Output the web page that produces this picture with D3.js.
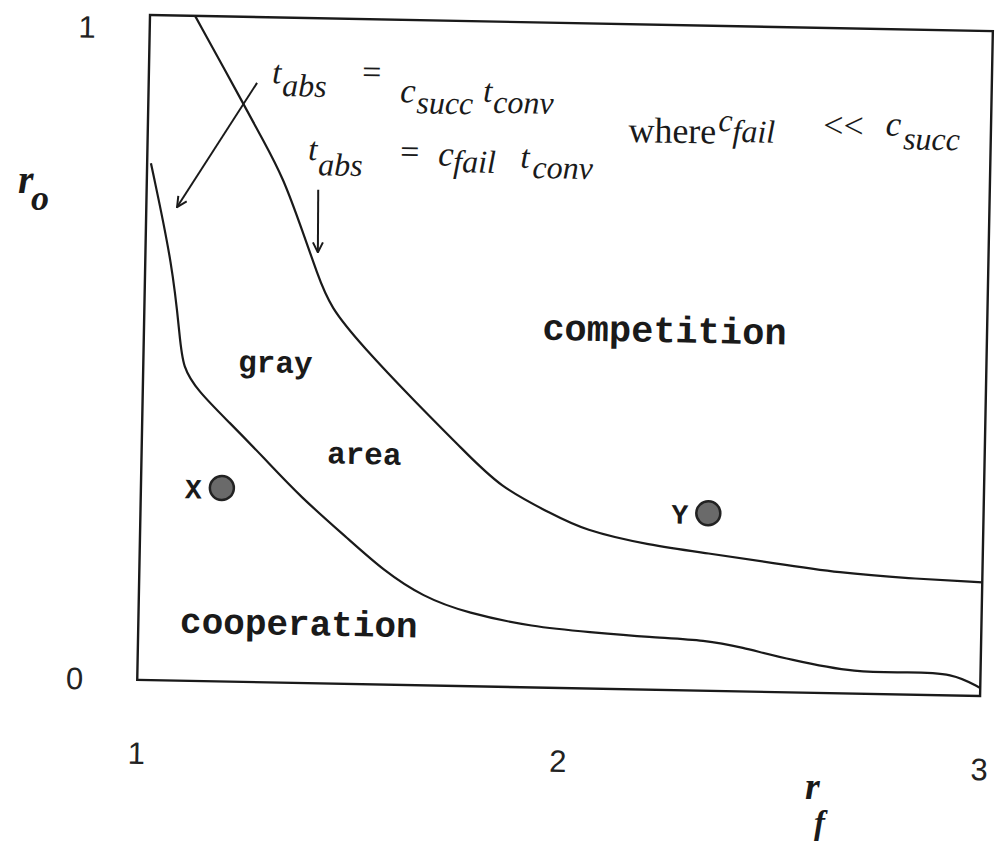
<!DOCTYPE html>
<html>
<head>
<meta charset="utf-8">
<script src="https://cdn.jsdelivr.net/npm/d3@7"></script>
<style>
  body { margin: 0; background: #fff; }
  .tick text { font-family: "Liberation Sans", Arial, sans-serif; font-size: 31px; fill: #222; }
  .mono { font-family: "Courier New", "Liberation Mono", monospace; font-weight: bold; fill: #1a1a1a; }
  .serif { font-family: "Liberation Serif", "Times New Roman", serif; fill: #1a1a1a; }
</style>
</head>
<body>
<svg id="chart" width="1000" height="842"></svg>
<script>
// data (r_f on x, r_o on y)
var xTicks = [1, 2, 3];
var yTicks = [0, 1];

// boundary between cooperation and gray area
var coopRf = [1.009, 1.066, 1.086, 1.094, 1.129, 1.208, 1.288, 1.378, 1.498, 1.578, 1.674, 1.779, 1.937, 2.07, 2.214, 2.350, 2.428, 2.548, 2.707, 2.826, 2.935, 3.0];
var coopRo = [0.777, 0.622, 0.512, 0.472, 0.437, 0.389, 0.339, 0.280, 0.216, 0.172, 0.133, 0.110, 0.091, 0.085, 0.079, 0.076, 0.067, 0.049, 0.031, 0.034, 0.034, 0.012];

// boundary between gray area and competition
var compRf = [1.107, 1.225, 1.274, 1.323, 1.373, 1.408, 1.440, 1.521, 1.642, 1.763, 1.852, 1.972, 2.051, 2.210, 2.346, 2.503, 2.662, 2.822, 3.0];
var compRo = [1.0, 0.870, 0.815, 0.760, 0.677, 0.617, 0.566, 0.507, 0.429, 0.355, 0.300, 0.263, 0.238, 0.217, 0.207, 0.194, 0.181, 0.175, 0.171];

// the two marked points
var pointNames = ["X", "Y"];
var pointRf = [1.192, 2.347];
var pointRo = [0.291, 0.267];

// set the dimensions of the (slightly tilted, scanned) plot frame
var margin = {top: 15, left: 150},
    width = 843,
    height = 665,
    tilt = 1.1;

var svg = d3.select("#chart");

var g = svg.append("g")
    .attr("transform", "translate(" + margin.left + "," + margin.top + ") rotate(" + tilt + ")");

var x = d3.scaleLinear().domain([1, 3]).range([0, width]);
var y = d3.scaleLinear().domain([0, 1]).range([height, 0]);

// arrow head
svg.append("defs").append("marker")
    .attr("id", "head")
    .attr("viewBox", "0 0 12 12")
    .attr("refX", 11).attr("refY", 6)
    .attr("markerWidth", 12).attr("markerHeight", 12)
    .attr("markerUnits", "userSpaceOnUse")
    .attr("orient", "auto")
  .append("path")
    .attr("d", "M1,1 L11,6 L1,11")
    .attr("fill", "none")
    .attr("stroke", "#1a1a1a")
    .attr("stroke-width", 2);

// frame
g.append("rect")
    .attr("x", 0).attr("y", 0)
    .attr("width", width).attr("height", height)
    .attr("fill", "none")
    .attr("stroke", "#1a1a1a")
    .attr("stroke-width", 2.4);

// axes (labels only)
var xAxis = g.append("g")
    .attr("transform", "translate(0," + height + ")")
    .call(d3.axisBottom(x).tickValues(xTicks).tickSize(0).tickPadding(62).tickFormat(d3.format("d")));
xAxis.select(".domain").remove();

var yAxis = g.append("g")
    .call(d3.axisLeft(y).tickValues(yTicks).tickSize(0).tickPadding(54).tickFormat(d3.format("d")));
yAxis.select(".domain").remove();
yAxis.selectAll(".tick text").attr("dy", function(d) { return d === 1 ? "0.75em" : "0.32em"; });

// boundary curves
var line = d3.line()
    .x(function(d) { return x(d[0]); })
    .y(function(d) { return y(d[1]); })
    .curve(d3.curveBasis);

[d3.zip(coopRf, coopRo), d3.zip(compRf, compRo)].forEach(function(pts) {
  g.append("path")
      .datum(pts)
      .attr("d", line)
      .attr("fill", "none")
      .attr("stroke", "#1a1a1a")
      .attr("stroke-width", 2.2);
});

// points X and Y
var pts = g.selectAll(".pt")
    .data(d3.range(pointNames.length))
  .enter().append("g")
    .attr("class", "pt")
    .attr("transform", function(i) { return "translate(" + x(pointRf[i]) + "," + y(pointRo[i]) + ")"; });
pts.append("circle")
    .attr("r", 12)
    .attr("fill", "#6a6a6a")
    .attr("stroke", "#222")
    .attr("stroke-width", 2.5);
pts.append("text")
    .attr("class", "mono")
    .attr("x", -20).attr("y", 11)
    .attr("text-anchor", "end")
    .attr("font-size", 28)
    .text(function(i) { return pointNames[i]; });

// region labels
var regions = [
  {text: "competition", rf: 1.945, ro: 0.523, size: 37},
  {text: "gray",        rf: 1.225, ro: 0.466, size: 31},
  {text: "area",        rf: 1.440, ro: 0.331, size: 31},
  {text: "cooperation", rf: 1.099, ro: 0.072, size: 36}
];
g.selectAll(".region")
    .data(regions)
  .enter().append("text")
    .attr("class", "mono")
    .attr("x", function(d) { return x(d.rf); })
    .attr("y", function(d) { return y(d.ro); })
    .attr("font-size", function(d) { return d.size; })
    .text(function(d) { return d.text; });

// formula pieces
var formula = [
  {s: "t",    rf: 1.2925, ro: 0.901, size: 33, it: true},
  {s: "abs",  rf: 1.317,  ro: 0.882, size: 32, it: true},
  {s: "=",    rf: 1.506,  ro: 0.904, size: 34, it: false},
  {s: "c",    rf: 1.597,  ro: 0.876, size: 35, it: true},
  {s: "succ", rf: 1.636,  ro: 0.860, size: 32, it: true},
  {s: "t",    rf: 1.794,  ro: 0.879, size: 33, it: true},
  {s: "conv", rf: 1.818,  ro: 0.863, size: 32, it: true},

  {s: "t",    rf: 1.3815, ro: 0.7865, size: 33, it: true},
  {s: "abs",  rf: 1.406,  ro: 0.764, size: 32, it: true},
  {s: "=",    rf: 1.600,  ro: 0.785, size: 34, it: false},
  {s: "c",    rf: 1.690,  ro: 0.782, size: 35, it: true},
  {s: "fail", rf: 1.726,  ro: 0.7725, size: 32, it: true},
  {s: "t",    rf: 1.885,  ro: 0.781, size: 33, it: true},
  {s: "conv", rf: 1.914,  ro: 0.766, size: 32, it: true},

  {s: "where", rf: 2.140, ro: 0.823, size: 36, it: false},
  {s: "c",     rf: 2.353, ro: 0.842, size: 32, it: true},
  {s: "fail",  rf: 2.387, ro: 0.826, size: 32, it: true},
  {s: "<<",    rf: 2.602, ro: 0.836, size: 36, it: false},
  {s: "c",     rf: 2.750, ro: 0.840, size: 35, it: true},
  {s: "succ",  rf: 2.792, ro: 0.820, size: 32, it: true}
];
g.selectAll(".formula")
    .data(formula)
  .enter().append("text")
    .attr("class", "serif")
    .attr("x", function(d) { return x(d.rf); })
    .attr("y", function(d) { return y(d.ro); })
    .attr("font-size", function(d) { return d.size; })
    .attr("font-style", function(d) { return d.it ? "italic" : "normal"; })
    .text(function(d) { return d.s; });

// arrows pointing at the two boundaries
var arrows = [
  [[1.257, 0.901], [1.073, 0.712]],
  [[1.407, 0.742], [1.409, 0.648]]
];
g.selectAll(".arrow")
    .data(arrows)
  .enter().append("line")
    .attr("x1", function(d) { return x(d[0][0]); })
    .attr("y1", function(d) { return y(d[0][1]); })
    .attr("x2", function(d) { return x(d[1][0]); })
    .attr("y2", function(d) { return y(d[1][1]); })
    .attr("stroke", "#1a1a1a")
    .attr("stroke-width", 2)
    .attr("marker-end", "url(#head)");

// axis titles
var ro = svg.append("text")
    .attr("class", "serif")
    .attr("x", 18).attr("y", 193)
    .attr("font-size", 40)
    .attr("font-weight", "bold")
    .attr("font-style", "italic")
    .text("r");
ro.append("tspan").attr("x", 31).attr("y", 210).attr("font-size", 36).text("o");

var rf = svg.append("text")
    .attr("class", "serif")
    .attr("x", 805).attr("y", 799)
    .attr("font-size", 38)
    .attr("font-weight", "bold")
    .attr("font-style", "italic")
    .text("r");
rf.append("tspan").attr("x", 814).attr("y", 834).attr("font-size", 33).text("f");
</script>
</body>
</html>
